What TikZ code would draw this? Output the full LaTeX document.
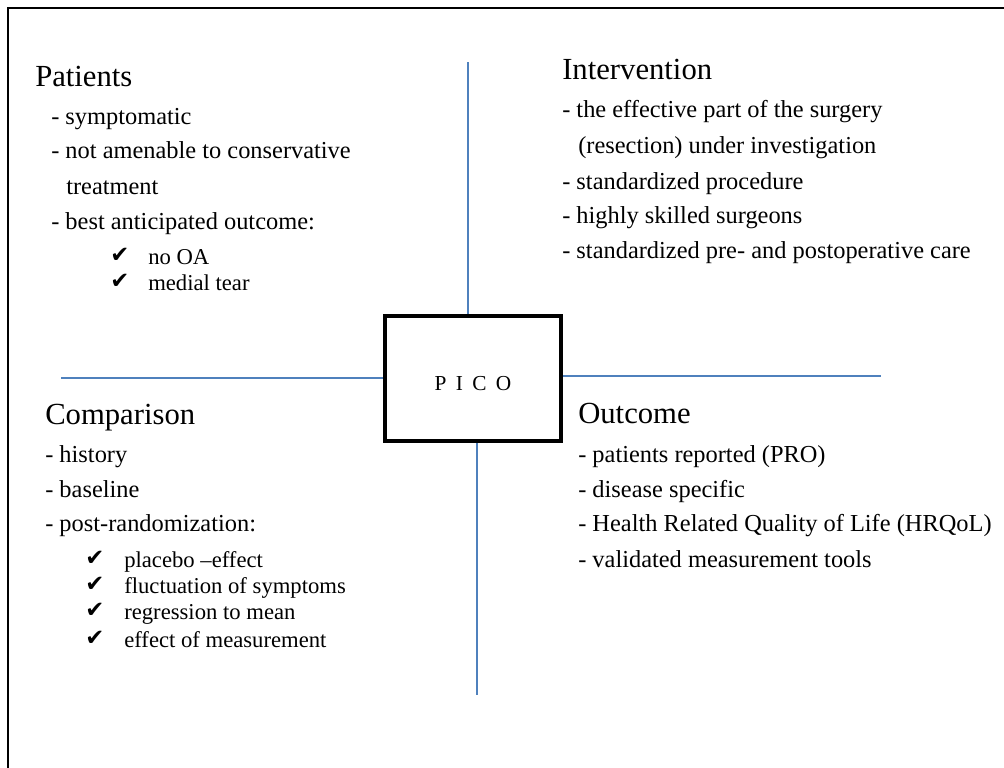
\documentclass[tikz,border=0pt]{standalone}
\usepackage{fontspec}
\setmainfont{Liberation Serif}
\newfontfamily\symfont{DejaVu Sans}
\usetikzlibrary{positioning}
\definecolor{lineblue}{HTML}{4F81BD}
\tikzset{
	heading/.style={anchor=base west, inner sep=0pt, font=\fontsize{23}{27}\selectfont},
	item/.style={anchor=base west, inner sep=0pt, font=\fontsize{18.3}{22}\selectfont},
	tick/.style={anchor=base west, inner sep=0pt, font=\fontsize{17}{20}\selectfont},
	checkmark/.style={anchor=base west, inner sep=0pt, font=\fontsize{17}{20}\symfont},
	axis/.style={draw=lineblue, line width=0.9pt},
	picobox/.style={draw, fill=white, line width=3pt, minimum width=132pt, minimum height=94pt,
			inner sep=0pt, text height=18pt, text depth=0pt, font=\fontsize{16}{20}\selectfont}
}

\begin{document}
\begin{tikzpicture}[x=0.75pt, y=-0.75pt]
			\useasboundingbox (0,0) rectangle (1004,768);
			% Frame, only top and left edges show
			\draw[line width=1.5pt] (1004,8) -- (8,8) -- (8,768);

			% Central box
			\node[picobox] (pico) at (473,378.5) {P\hspace{7pt}I\hspace{7pt}C\hspace{7pt}O};

			% Axes out of the box
			\coordinate (topend) at (468,62);
			\coordinate (leftend) at (61,378);
			\coordinate (rightend) at (881,376);
			\coordinate (bottomend) at (477,695);
			\draw[axis] (topend) -- (topend |- pico.north);
			\draw[axis] (leftend) -- (leftend -| pico.west);
			\draw[axis] (pico.east |- rightend) -- (rightend);
			\draw[axis] (bottomend |- pico.south) -- (bottomend);

			% Patients
			\node[heading] (pat) at (35,86) {Patients};
			\node[item] (pat1) at (51,124) {- symptomatic};
			\node[item] (pat2) at (51,158) {- not amenable to conservative};
			\node[item] (pat2b) at (66,194) {treatment};
			\node[item] (pat3) at (51,229) {- best anticipated outcome:};
			\node[checkmark] (patc1) at (110,262) {✔};
			\node[tick] (patt1) at (148,264) {no OA};
			\node[checkmark] (patc2) at (110,288) {✔};
			\node[tick] (patt2) at (148,290) {medial tear};

			% Intervention
			\node[heading] (int) at (562,79) {Intervention};
			\node[item] (int1) at (562,117) {- the effective part of the surgery};
			\node[item] (int1b) at (578,153) {(resection) under investigation};
			\node[item] (int2) at (562,189) {- standardized procedure};
			\node[item] (int3) at (562,223) {- highly skilled surgeons};
			\node[item] (int4) at (562,258) {- standardized pre- and postoperative care};

			% Comparison
			\node[heading] (com) at (45,424) {Comparison};
			\node[item] (com1) at (45,462) {- history};
			\node[item] (com2) at (45,497) {- baseline};
			\node[item] (com3) at (45,531) {- post-randomization:};
			\node[checkmark] (comc1) at (85,565) {✔};
			\node[tick] (comt1) at (124,567) {placebo --effect};
			\node[checkmark] (comc2) at (85,591) {✔};
			\node[tick] (comt2) at (124,593) {fluctuation of symptoms};
			\node[checkmark] (comc3) at (85,617) {✔};
			\node[tick] (comt3) at (124,619) {regression to mean};
			\node[checkmark] (comc4) at (85,645) {✔};
			\node[tick] (comt4) at (124,647) {effect of measurement};

			% Outcome
			\node[heading] (out) at (578,423) {Outcome};
			\node[item] (out1) at (578,462) {- patients reported (PRO)};
			\node[item] (out2) at (578,497) {- disease specific};
			\node[item] (out3) at (578,531) {- Health Related Quality of Life (HRQoL)};
			\node[item] (out4) at (578,567) {- validated measurement tools};
\end{tikzpicture}
\end{document}
